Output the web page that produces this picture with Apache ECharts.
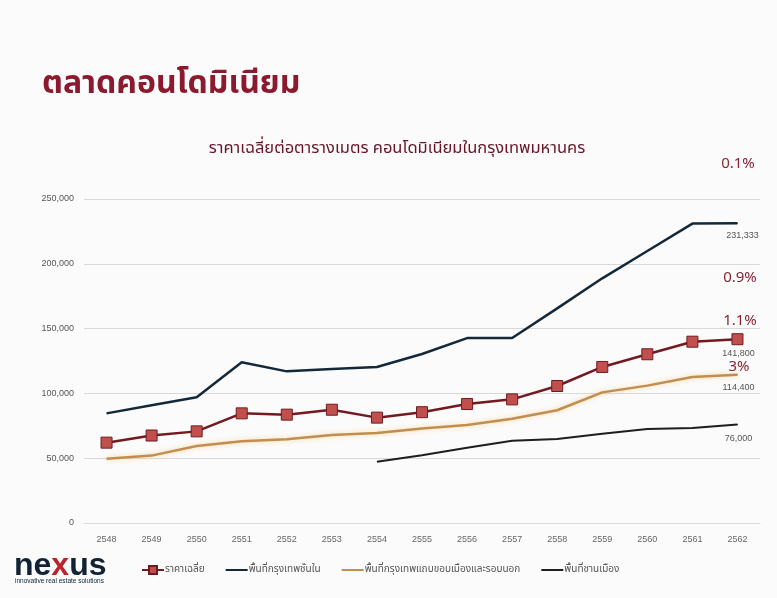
<!DOCTYPE html>
<html><head><meta charset="utf-8">
<script src="https://cdn.jsdelivr.net/npm/echarts@6/dist/echarts.min.js"></script>
<style>html,body{margin:0;padding:0;background:#fbfbfb;}#c{width:777px;height:598px;}</style>
</head><body><div id="c"></div>
<script>
const years = ['2548','2549','2550','2551','2552','2553','2554','2555','2556','2557','2558','2559','2560','2561','2562'];
const avgPrice = [62000,67500,70700,84600,83600,87400,81300,85500,91800,95400,105700,120400,130200,139900,141800];
const innerCity = [84600,90800,97000,124000,117000,118800,120400,130400,142700,142700,165600,188800,209900,231000,231333];
const cityFringe = [49600,52000,59400,63000,64600,67900,69400,73000,75600,80500,87000,100800,106000,112700,114400];
const suburban = [null,null,null,null,null,null,47300,52200,58100,63500,64800,68900,72500,73300,76000];
const seriesNames = ['ราคาเฉลี่ย','พื้นที่กรุงเทพชั้นใน','พื้นที่กรุงเทพแถบขอบเมืองและรอบนอก','พื้นที่ชานเมือง'];
const pctLabels = ['0.1%','0.9%','1.1%','3%'];

const TH = "'Noto Sans Thai','Noto Sans Thai UI','Loma','Garuda','Tlwg Typo','Noto Sans',sans-serif";
const fmt = v => Number(v).toLocaleString('en-US');

function withEndLabel(arr, color, dx, dist){
  return arr.map((v,i)=> i===arr.length-1 ? {
    value:v, symbol: color ? 'circle' : undefined, symbolSize: color ? 1 : undefined,
    itemStyle: color ? {color:color} : undefined,
    label:{show:true,position:'bottom',distance:dist,offset:[dx,0],formatter:p=>fmt(p.value),fontSize:9,color:'#555',fontFamily:'Liberation Sans'}
  } : v);
}

const chart = echarts.init(document.getElementById('c'));
chart.setOption({
  backgroundColor:'#fbfbfb',
  animation:false,
  title:[{
    text:'ราคาเฉลี่ยต่อตารางเมตร คอนโดมิเนียมในกรุงเทพมหานคร',
    left:392, top:136, textAlign:'center',
    textStyle:{color:'#6a1426',fontSize:16.5,fontWeight:'normal',fontFamily:TH}
  }],
  grid:{left:84,right:17,top:199,bottom:75},
  legend:{
    left:136, top:560, itemWidth:22, itemHeight:10, itemGap:20,
    textStyle:{fontSize:10,color:'#555',fontFamily:TH,padding:[0,0,0,-4]},
    data:[
      {name:seriesNames[0]},
      {name:seriesNames[1],itemStyle:{opacity:0}},
      {name:seriesNames[2],itemStyle:{opacity:0}},
      {name:seriesNames[3],itemStyle:{opacity:0}}
    ]
  },
  xAxis:{
    type:'category', data:years, boundaryGap:true,
    axisLine:{lineStyle:{color:'#d9d9d9'}}, axisTick:{show:false},
    axisLabel:{color:'#666',fontSize:9,margin:12,fontFamily:'Liberation Sans'}
  },
  yAxis:{
    type:'value', min:0, max:250000, interval:50000,
    axisLine:{show:false}, axisTick:{show:false},
    splitLine:{lineStyle:{color:'#d9d9d9'}},
    axisLabel:{color:'#555',fontSize:9,margin:10,formatter:v=>fmt(v),fontFamily:'Liberation Sans'}
  },
  series:[
    {name:seriesNames[0],type:'line',data:withEndLabel(avgPrice,null,1,4),symbol:'rect',symbolSize:11,
     lineStyle:{color:'#731a20',width:2.5},itemStyle:{color:'#c0504d',borderColor:'#731a20',borderWidth:1},z:5},
    {name:seriesNames[1],type:'line',data:withEndLabel(innerCity,'#13293a',5,7),symbol:'none',
     lineStyle:{color:'#13293a',width:2.5},itemStyle:{color:'#13293a'}},
    {name:seriesNames[2],type:'line',data:withEndLabel(cityFringe,'#c28e4f',1,8),symbol:'none',
     lineStyle:{color:'#c28e4f',width:2.5,shadowColor:'rgba(245,200,120,0.7)',shadowBlur:5},itemStyle:{color:'#c8a070'}},
    {name:seriesNames[3],type:'line',data:withEndLabel(suburban,'#1e1e1e',1,9),symbol:'none',
     lineStyle:{color:'#1e1e1e',width:2},itemStyle:{color:'#1e1e1e'}}
  ],
  graphic:[
    {type:'text',left:42,top:71,style:{text:'ตลาดคอนโดมิเนียม',fill:'#8c1a2e',font:'bold 32px '+TH,
      shadowColor:'rgba(40,0,0,0.55)',shadowBlur:2,shadowOffsetX:1.5,shadowOffsetY:1.5}},
    {type:'text',x:738,y:165,style:{text:pctLabels[0],fill:'#8a2434',font:'15px '+TH,align:'center',verticalAlign:'middle'}},
    {type:'text',x:740,y:279,style:{text:pctLabels[1],fill:'#8a2434',font:'15px '+TH,align:'center',verticalAlign:'middle'}},
    {type:'text',x:740,y:322,style:{text:pctLabels[2],fill:'#8a2434',font:'15px '+TH,align:'center',verticalAlign:'middle'}},
    {type:'text',x:739,y:368,style:{text:pctLabels[3],fill:'#8a2434',font:'15px '+TH,align:'center',verticalAlign:'middle'}},
    {type:'text',x:14,y:566,style:{text:'{a|ne}{b|x}{a|us}',verticalAlign:'middle',
      rich:{a:{fill:'#102233',font:'bold 32px Liberation Sans'},b:{fill:'#b8262c',font:'bold 32px Liberation Sans'}}}},
    {type:'text',x:15,y:581,style:{text:'innovative real estate solutions',fill:'#102233',font:'6.5px Liberation Sans',verticalAlign:'middle'}}
  ]
});
</script></body></html>
